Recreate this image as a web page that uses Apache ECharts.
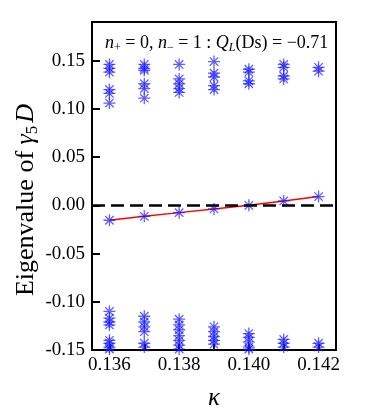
<!DOCTYPE html>
<html>
<head>
<meta charset="utf-8">
<script src="https://cdn.jsdelivr.net/npm/echarts@6/dist/echarts.min.js"></script>
<style>
  html, body { margin: 0; padding: 0; background: #fff; }
  #chart { width: 382px; height: 414px; }
</style>
</head>
<body>
<div id="chart"></div>
<script>
// kappa values (x)
const kappa = [0.136, 0.137, 0.138, 0.139, 0.140, 0.141, 0.142];
// near-zero mode, fitted by the red line
const zeroMode = [-0.0155, -0.0114, -0.0076, -0.0038, 0.0000, 0.0045, 0.0090];
// upper band of eigenvalues, one list per kappa
const upperBand = [
  [0.146, 0.142, 0.138, 0.120, 0.116, 0.106],
  [0.146, 0.142, 0.140, 0.126, 0.121, 0.111],
  [0.146, 0.131, 0.126, 0.121, 0.117],
  [0.149, 0.137, 0.133, 0.124, 0.120],
  [0.141, 0.138, 0.129, 0.126],
  [0.146, 0.143, 0.134, 0.131],
  [0.143, 0.139]
];
// lower band of eigenvalues, one list per kappa
const lowerBand = [
  [-0.110, -0.117, -0.121, -0.124, -0.140, -0.143, -0.147, -0.149],
  [-0.115, -0.121, -0.126, -0.131, -0.143, -0.147],
  [-0.118, -0.124, -0.129, -0.135, -0.140, -0.145, -0.149],
  [-0.126, -0.131, -0.136, -0.140, -0.144],
  [-0.133, -0.137, -0.1415, -0.147, -0.149],
  [-0.139, -0.143, -0.147],
  [-0.143, -0.147]
];
const xTicks = [0.136, 0.137, 0.138, 0.139, 0.140, 0.141, 0.142];
const xLabels = [0.136, 0.138, 0.140, 0.142];
const yTicks = [-0.15, -0.10, -0.05, 0.00, 0.05, 0.10, 0.15];

const starData = [];
kappa.forEach((k, i) => {
  upperBand[i].forEach(v => starData.push([k, v]));
  lowerBand[i].forEach(v => starData.push([k, v]));
  starData.push([k, zeroMode[i]]);
});
const lineData = kappa.map((k, i) => [k, zeroMode[i]]);

const serif = 'Liberation Serif';
const star = 'path://M0,-10L0,10M-10,0L10,0M-7,-7L7,7M-7,7L7,-7';

const myChart = echarts.init(document.getElementById('chart'));
const option = {
  animation: false,
  textStyle: { fontFamily: serif, color: '#000' },
  grid: {
    left: 92,
    right: 46,
    top: 22,
    bottom: 64,
    outerBoundsMode: 'none',
    show: true,
    borderColor: '#000',
    borderWidth: 2,
    backgroundColor: 'transparent'
  },
  xAxis: {
    type: 'value',
    min: 0.1355,
    max: 0.1425,
    axisLine: { show: true, onZero: false, lineStyle: { color: '#000', width: 2 } },
    axisTick: { show: true, inside: true, length: 6, customValues: xTicks, lineStyle: { color: '#000', width: 2 } },
    axisLabel: {
      customValues: xLabels,
      formatter: v => v.toFixed(3),
      color: '#000',
      fontFamily: serif,
      fontSize: 19,
      margin: 6
    },
    splitLine: { show: false },
    name: 'κ',
    nameLocation: 'middle',
    nameGap: 36,
    nameTextStyle: { fontFamily: serif, fontStyle: 'italic', fontSize: 25, color: '#000' }
  },
  yAxis: {
    type: 'value',
    min: -0.15,
    max: 0.19,
    axisLine: { show: true, onZero: false, lineStyle: { color: '#000', width: 2 } },
    axisTick: { show: true, inside: true, length: 8, customValues: yTicks, lineStyle: { color: '#000', width: 2 } },
    axisLabel: {
      customValues: yTicks,
      formatter: v => v.toFixed(2),
      color: '#000',
      fontFamily: serif,
      fontSize: 19,
      margin: 7
    },
    splitLine: { show: false }
  },
  graphic: [
    {
      type: 'text',
      x: 26,
      y: 200,
      rotation: Math.PI / 2,
      style: {
        text: '{a|Eigenvalue of }{i|γ}{s|5}{i|D}',
        align: 'center',
        verticalAlign: 'middle',
        fill: '#000',
        rich: {
          a: { fontFamily: serif, fontSize: 26, lineHeight: 30, fill: '#000' },
          i: { fontFamily: serif, fontSize: 26, fontStyle: 'italic', lineHeight: 30, fill: '#000' },
          s: { fontFamily: serif, fontSize: 17, verticalAlign: 'bottom', lineHeight: 30, padding: [0, 3, 0, 0], fill: '#000' }
        }
      }
    },
    {
      type: 'text',
      left: 105,
      top: 34,
      style: {
        text: '{i|n}{s|+}{a| = 0, }{i|n}{s|−}{a| = 1 : }{i|Q}{si|L}{a|(Ds) = −0.71}',
        fill: '#000',
        rich: {
          a: { fontFamily: serif, fontSize: 18, lineHeight: 22, fill: '#000' },
          i: { fontFamily: serif, fontSize: 18, fontStyle: 'italic', lineHeight: 22, fill: '#000' },
          s: { fontFamily: serif, fontSize: 12, verticalAlign: 'bottom', lineHeight: 22, fill: '#000' },
          si: { fontFamily: serif, fontSize: 12, fontStyle: 'italic', verticalAlign: 'bottom', lineHeight: 22, fill: '#000' }
        }
      }
    }
  ],
  series: [
    {
      type: 'line',
      data: lineData,
      symbol: 'none',
      lineStyle: { color: '#ff0000', width: 1.5 },
      z: 2,
      markLine: {
        silent: true,
        symbol: 'none',
        label: { show: false },
        lineStyle: { color: '#000', width: 2.5, type: [13, 6] },
        data: [{ yAxis: 0 }]
      }
    },
    {
      type: 'scatter',
      data: starData,
      symbol: star,
      symbolSize: 12,
      itemStyle: {
        color: 'transparent',
        borderColor: 'rgba(20, 20, 255, 0.85)',
        borderWidth: 1.3
      },
      z: 3
    }
  ]
};
myChart.setOption(option);
</script>
</body>
</html>
